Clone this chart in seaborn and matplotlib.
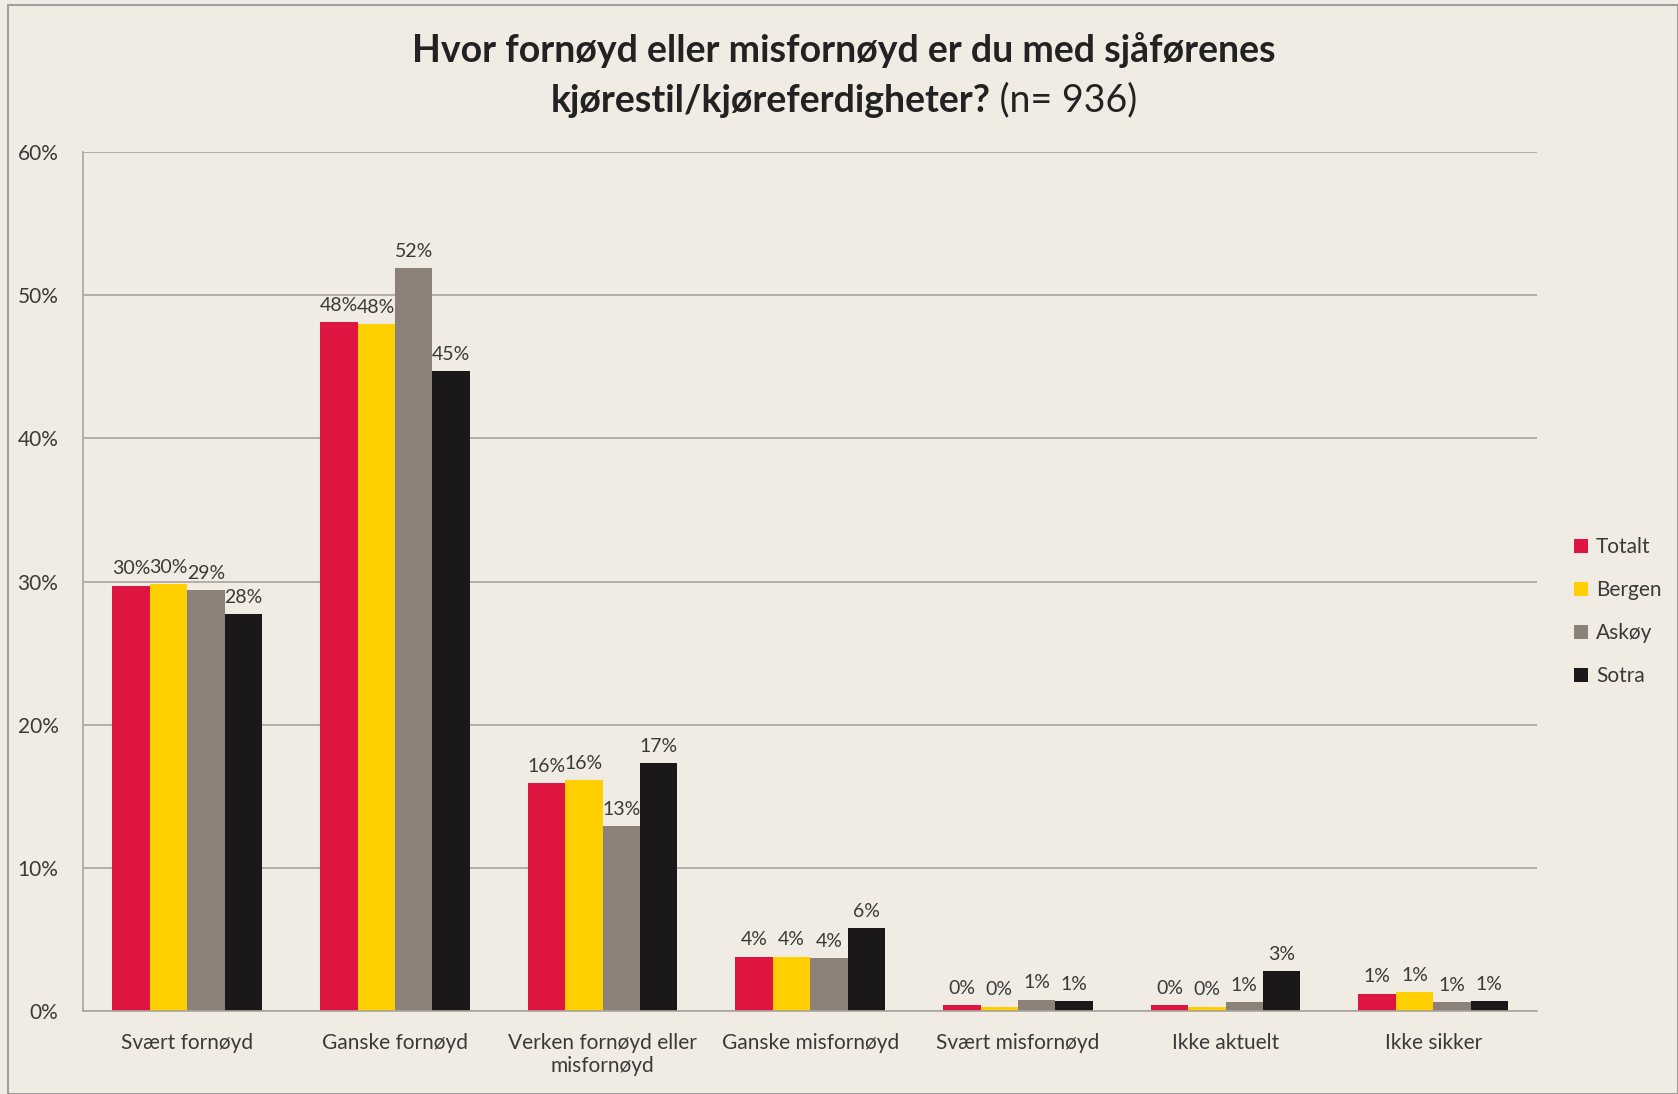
import pandas as pd
import matplotlib.pyplot as plt
import seaborn as sns
from matplotlib.patches import Rectangle

# Data
kategorier = ["Svært fornøyd", "Ganske fornøyd", "Verken fornøyd eller\nmisfornøyd",
              "Ganske misfornøyd", "Svært misfornøyd", "Ikke aktuelt", "Ikke sikker"]
serier = ["Totalt", "Bergen", "Askøy", "Sotra"]
totalt = [29.7, 48.1, 15.9, 3.8, 0.4, 0.4, 1.2]
bergen = [29.8, 48.0, 16.1, 3.8, 0.3, 0.3, 1.3]
askoy = [29.4, 51.9, 12.9, 3.7, 0.8, 0.6, 0.6]
sotra = [27.7, 44.7, 17.3, 5.8, 0.7, 2.8, 0.7]

farger = ["#DE1441", "#FFCF00", "#8C8178", "#1B1819"]
bakgrunn = "#F0EBE3"

df = pd.DataFrame({"Kategori": kategorier, "Totalt": totalt, "Bergen": bergen,
                   "Askøy": askoy, "Sotra": sotra})
df_long = df.melt(id_vars="Kategori", value_vars=serier, var_name="Område", value_name="Andel")

sns.set_style("white")
plt.rcParams["font.family"] = ["Lato", "DejaVu Sans"]

fig = plt.figure(figsize=(16.78, 10.94), dpi=100, facecolor=bakgrunn)
ax = fig.add_axes([0.0497, 0.0759, 0.8663, 0.7851])
ax.set_facecolor(bakgrunn)

sns.barplot(data=df_long, x="Kategori", y="Andel", hue="Område", hue_order=serier,
            order=kategorier, palette=farger, width=0.72, gap=0, saturation=1,
            edgecolor="none", ax=ax)

ax.set_ylim(0, 60)
ax.set_yticks(range(0, 61, 10))
ax.set_yticklabels([f"{v}%" for v in range(0, 61, 10)], fontsize=15, color="#3a3a3a")
ax.tick_params(axis="x", labelsize=15, colors="#3a3a3a", length=0, pad=16)
ax.tick_params(axis="y", length=0, pad=18)
ax.set_xlabel("")
ax.set_ylabel("")
ax.yaxis.grid(True, color="#A9A49D", linewidth=1.2)
ax.set_axisbelow(True)
for s in ["top", "right"]:
    ax.spines[s].set_visible(False)
ax.spines["left"].set_color("#A9A49D")
ax.spines["bottom"].set_color("#A9A49D")
ax.spines["left"].set_linewidth(1.2)
ax.spines["bottom"].set_linewidth(1.2)

for cont in ax.containers:
    labels = [f"{int(b.get_height() + 0.5)}%" for b in cont]
    ax.bar_label(cont, labels=labels, fontsize=14, color="#3a3a3a", padding=6)

leg = ax.legend(loc="center left", bbox_to_anchor=(0.927, 0.441), bbox_transform=fig.transFigure,
                frameon=False, fontsize=15, handlelength=0.65, handleheight=0.65,
                handletextpad=0.4, labelspacing=1.1)
for t in leg.get_texts():
    t.set_color("#3a3a3a")

# Title: bold part + regular "(n= 936)"
fig.text(0.503, 0.954, "Hvor fornøyd eller misfornøyd er du med sjåførenes",
         ha="center", va="center", fontsize=27, fontweight="bold", color="#222222")
t1 = fig.text(0.5, 0.908, "kjørestil/kjøreferdigheter?", ha="left", va="center",
              fontsize=27, fontweight="bold", color="#222222")
t2 = fig.text(0.5, 0.908, " (n= 936)", ha="left", va="center",
              fontsize=27, color="#222222")
fig.canvas.draw()
r = fig.canvas.get_renderer()
w1 = t1.get_window_extent(r).width / fig.bbox.width
w2 = t2.get_window_extent(r).width / fig.bbox.width
x0 = 0.503 - (w1 + w2) / 2
t1.set_x(x0)
t2.set_x(x0 + w1)

fig.patches.append(Rectangle((0.005, 0.0), 0.995, 0.995, transform=fig.transFigure,
                             fill=False, edgecolor="#A0A0A0", linewidth=1.5))

fig.savefig("out.png", dpi=100, facecolor=bakgrunn)
